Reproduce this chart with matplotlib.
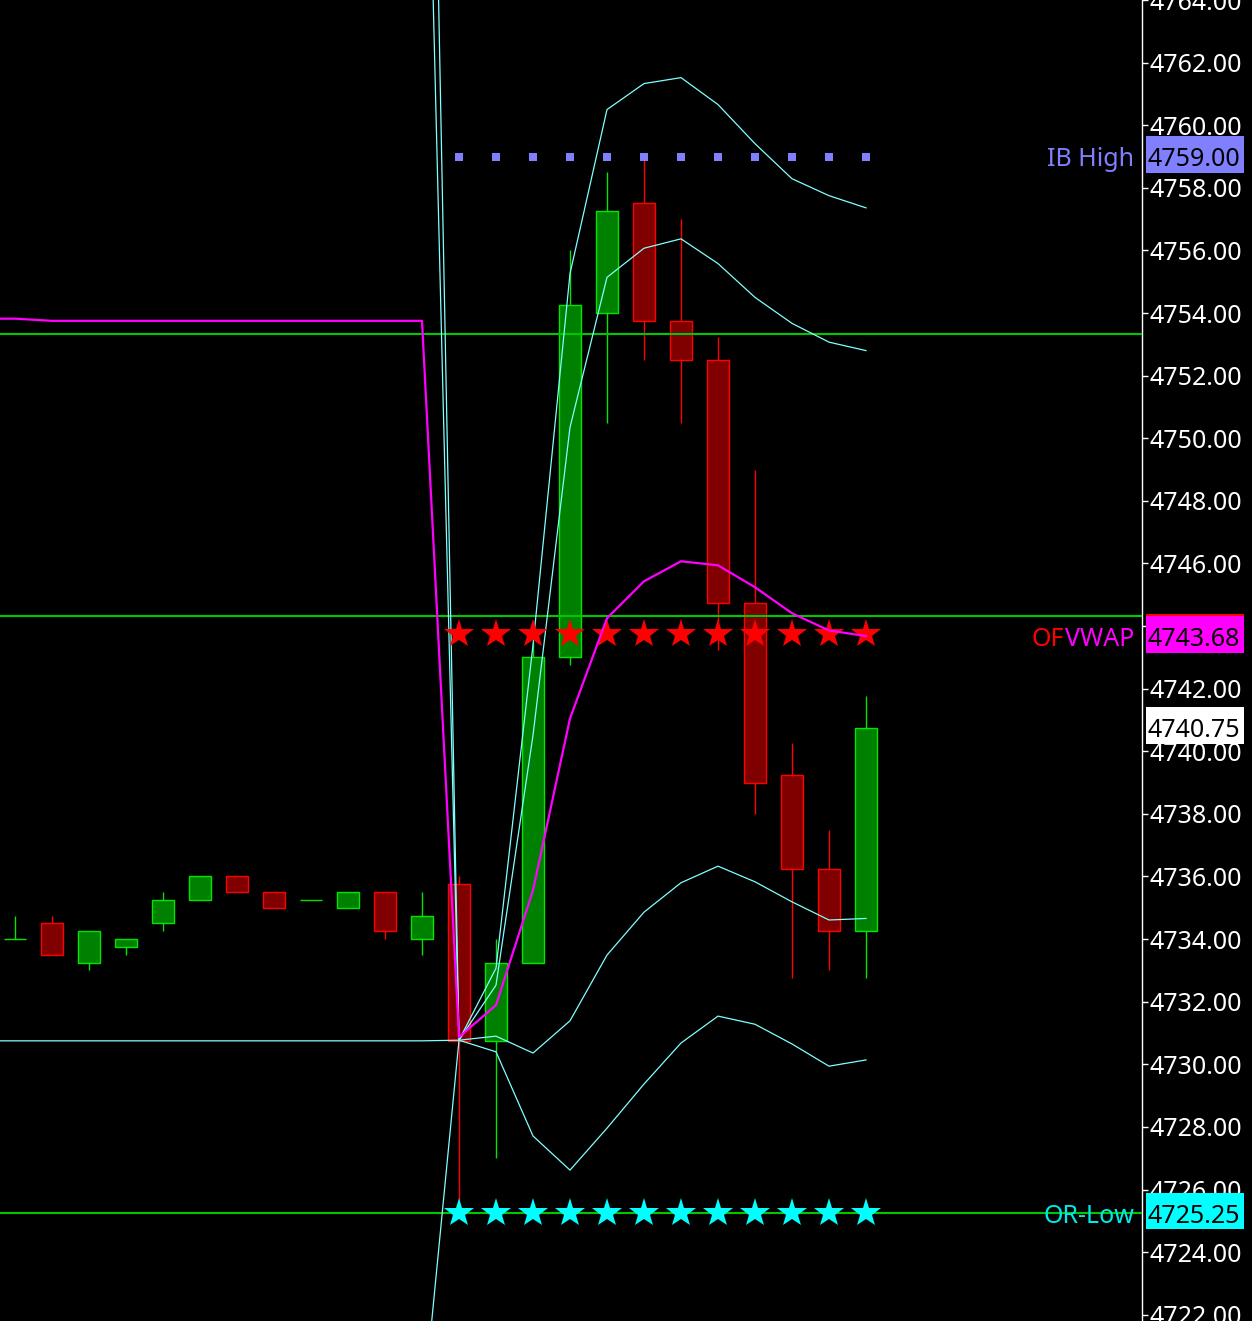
import matplotlib
matplotlib.use('Agg')
import matplotlib.pyplot as plt
import numpy as np
from matplotlib.patches import Rectangle
from matplotlib.transforms import blended_transform_factory

plt.rcParams['font.family'] = ['Noto Sans', 'DejaVu Sans']

# candles (bar index 0..23)
opens  = [4734.0, 4734.5, 4733.25, 4733.75, 4734.5, 4735.25, 4736.0, 4735.5, 4735.25, 4735.0, 4735.5, 4734.0,
          4735.75, 4730.75, 4733.25, 4743.0, 4754.0, 4757.5, 4753.75, 4752.5, 4744.75, 4739.25, 4736.25, 4734.25]
highs  = [4734.75, 4734.75, 4734.25, 4734.0, 4735.5, 4736.0, 4736.0, 4735.5, 4735.25, 4735.5, 4735.5, 4735.5,
          4736.0, 4734.0, 4743.5, 4756.0, 4758.5, 4759.0, 4757.0, 4753.25, 4749.0, 4740.25, 4737.5, 4741.75]
lows   = [4734.0, 4733.5, 4733.0, 4733.5, 4734.25, 4735.25, 4735.5, 4735.0, 4735.25, 4735.0, 4734.0, 4733.5,
          4725.25, 4727.0, 4733.25, 4742.75, 4750.5, 4752.5, 4750.5, 4743.25, 4738.0, 4732.75, 4733.0, 4732.75]
closes = [4734.0, 4733.5, 4734.25, 4734.0, 4735.25, 4736.0, 4735.5, 4735.0, 4735.25, 4735.5, 4734.25, 4734.75,
          4730.75, 4733.25, 4743.0, 4754.25, 4757.25, 4753.75, 4752.5, 4744.75, 4739.0, 4736.25, 4734.25, 4740.75]

# indicator lines (bar index -1..23)
vwap   = [4753.82, 4753.82] + [4753.75] * 11 + [4730.87, 4731.89, 4735.56, 4741.05, 4744.25, 4745.43,
                                               4746.07, 4745.94, 4745.24, 4744.41, 4743.86, 4743.68]
upper1 = [4778.4] * 13 + [4730.77, 4732.53, 4740.51, 4750.35, 4755.14, 4756.07,
                          4756.37, 4755.58, 4754.50, 4753.67, 4753.07, 4752.80]
upper2 = [4791.0] * 13 + [4730.77, 4733.07, 4743.39, 4755.26, 4760.50, 4761.33,
                          4761.52, 4760.66, 4759.41, 4758.29, 4757.75, 4757.36]
lower1 = [4730.75] * 13 + [4730.77, 4730.90, 4730.36, 4731.39, 4733.49, 4734.86,
                           4735.80, 4736.33, 4735.83, 4735.19, 4734.61, 4734.66]
lower2 = [4718.6] * 13 + [4730.77, 4730.40, 4727.71, 4726.62, 4727.96, 4729.37,
                          4730.68, 4731.54, 4731.28, 4730.65, 4729.94, 4730.14]

h_levels = [4753.33, 4744.31, 4725.25]
ib_high = 4759.0
of_level = 4743.75
or_low = 4725.25
session_start = 12
last_price = 4740.75
vwap_last = 4743.68

o = np.array(opens); c = np.array(closes)
x = np.arange(len(opens))
xl = np.arange(-1, len(opens))
up = c >= o

fig = plt.figure(figsize=(12.52, 13.21), dpi=100, facecolor='black')
ax = fig.add_axes([0, 0, 1142 / 1252, 1], facecolor='black')

edge = np.where(up, '#00E600', '#FF0000')
fill = np.where(up, '#008000', '#800000')
ax.vlines(x, lows, highs, colors=edge, lw=1, zorder=2)
ax.bar(x, np.abs(c - o), bottom=np.minimum(o, c), width=0.6, color=fill,
       edgecolor=edge, linewidth=1, zorder=3)

for lv in h_levels:
    ax.axhline(lv, color='#00C800', lw=1.5, zorder=4)

for band in (upper1, upper2, lower1, lower2):
    ax.plot(xl, band, color='#80FFFF', lw=0.9, zorder=5)

xs = x[session_start:]
ax.plot(xs, [ib_high] * len(xs), ls='none', marker='s', ms=6, mew=0, color='#8080FF', zorder=6)
ax.plot(xs, [of_level] * len(xs), ls='none', marker='*', ms=22, mew=0, color='#FF0000', zorder=6)
ax.plot(xs, [or_low] * len(xs), ls='none', marker='*', ms=22, mew=0, color='#00FFFF', zorder=6)

ax.plot(xl, vwap, color='#FF00FF', lw=1.6, zorder=7)

ax.set_xlim(-15 / 37, -15 / 37 + 1142 / 37)
ax.set_ylim(4721.8, 4764.0)
for s in ['top', 'left', 'bottom']:
    ax.spines[s].set_visible(False)
ax.spines['right'].set_color('white')
ax.spines['right'].set_linewidth(1)
ax.set_xticks([])
ax.yaxis.tick_right()
ticks = np.arange(4722, 4765, 2)
ax.set_yticks(ticks)
ax.set_yticklabels([f'{t:.2f}' for t in ticks], fontsize=18, color='white')
ax.tick_params(axis='y', colors='white', length=4, width=1, pad=1.5, direction='out')

tr = blended_transform_factory(fig.transFigure, ax.transData)
box_x = 1146 / 1252
box_w = 98 / 1252
box_h = 1.18
shift = 0.064


def tag(value, bg, dy=0.0, label=True):
    fig.add_artist(Rectangle((box_x, value + shift + dy - box_h / 2), box_w, box_h,
                             transform=tr, fc=bg, ec='none', zorder=5))
    if label:
        fig.text(1148 / 1252, value, f'{value:.2f}', transform=tr, fontsize=18, color='black',
                 va='center_baseline', ha='left', zorder=6)


tag(ib_high, '#8080FF')
tag(vwap_last, '#FF0000', dy=0.06, label=False)
tag(vwap_last, '#FF00FF')
tag(last_price, 'white')
tag(or_low, '#00FFFF')

fig.text(1134 / 1252, ib_high, 'IB High', transform=tr, fontsize=18, color='#8080FF',
         ha='right', va='center_baseline')
fig.text(1134 / 1252, vwap_last, 'VWAP', transform=tr, fontsize=18, color='#FF00FF',
         ha='right', va='center_baseline')
fig.text(1064 / 1252, vwap_last, 'OF', transform=tr, fontsize=18, color='#FF0000',
         ha='right', va='center_baseline')
fig.text(1134 / 1252, or_low, 'OR-Low', transform=tr, fontsize=18, color='#00E8E8',
         ha='right', va='center_baseline')

fig.savefig('out.png', dpi=100, facecolor='black')
